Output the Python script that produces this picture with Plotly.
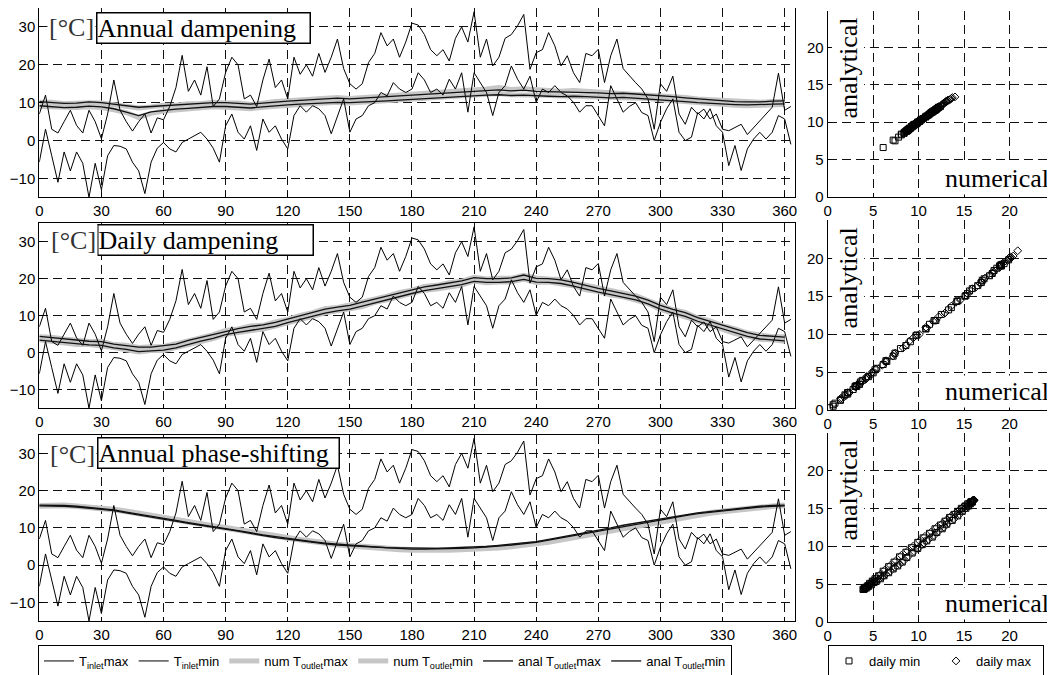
import plotly.graph_objects as go

# ---------------- data ----------------
days_in = list(range(0, 366, 3))   # 0..363
t_inlet_max = [7, 12, 3, 2, 5, 8, 4, 2, 8, 5, 0.5, 7, 16, 8, 5, 2.5, 5, 7, 2, 6,
               5.5, 9, 14, 22.5, 13, 16, 12, 19.5, 9, 11, 18, 22, 20, 11, 12, 9, 16, 21.5, 14, 16,
               11, 22, 17.5, 20, 17, 23, 18, 22, 26.8, 19, 15, 13.6, 15, 20.6, 23, 28.5, 25, 26.8, 22, 26,
               31, 30.5, 28, 24, 22.4, 24, 21, 27, 30, 26, 34, 22, 26.8, 19.7, 22, 27, 28, 30.3, 33.3, 18.8,
               23.2, 24, 28.5, 25, 19.7, 22.4, 17.9, 15.3, 23, 22.4, 24.1, 15.3, 22.4, 26.8, 19, 17, 15.3, 13.6, 11, 3,
               15, 13, 17, 7, 4.3, 8.8, 7, 8.3, 5.7, 7, 3, 2.6, 3.4, 4.3, 1.6, 3.4, 5.2, 7, 8.8, 17.8,
               8, 9]
t_inlet_min = [-5.7, 3, -4, -11, -3, -8, -3, -6, -15, -6, -13, -4, -1.3, -1.5, -2.2, -5.7, -8, -14, -5.7, -2,
               -0.5, -2.2, -3, -0.5, 0.4, 1.3, 2.2, 0.4, -2, -5.7, 3.9, 7, 2.2, 0.4, 3.9, -2.6, 5.7, 2.2, 3.9, 0.4,
               -2.2, 6.6, 9.2, 7.5, 9.2, 8.4, 6.6, 1.8, 6.6, 11, 2.2, 5.7, 6.6, 9.2, 10, 12.7, 11.8, 15.3, 13.6, 12.7,
               13.6, 17.9, 16, 12.7, 13.6, 12, 16.2, 13.6, 17.9, 7.5, 17.9, 15.3, 12.7, 6.6, 12.7, 14.5, 19.7, 16.2, 13.6, 17,
               10.1, 13.6, 12.7, 14.5, 12.7, 11.8, 10.1, 7.5, 9.2, 9.2, 6.6, 3.9, 14.5, 11, 7.5, 9, 10, 7.4, 6.6, 0,
               4.8, 8.4, 11, 2.2, 0, 0.9, 7.4, 5.7, 8.4, 3.9, 2.2, -6.6, -1.3, -7.9, -2.2, 0.4, 2.2, 0.4, 2.2, 6.6,
               5.7, -1]

days_out = list(range(0, 361, 6))  # 0..360

# Annual dampening
num_max_annual = [10.1, 10.1, 9.7, 10.0, 10.0, 9.9, 9.5, 9.0, 8.6, 8.9, 9.3, 9.3, 9.7, 9.7, 10.1, 9.9, 9.9, 9.5, 10.0, 10.3,
                  10.5, 10.7, 11.0, 11.1, 11.4, 11.1, 11.3, 11.6, 11.8, 12.1, 12.3, 12.6, 12.8, 13.0, 13.1, 13.4, 13.6, 14.0, 13.5, 13.7,
                  13.3, 13.2, 13.0, 13.2, 13.0, 12.8, 12.6, 12.7, 12.5, 12.2, 12.0, 11.7, 11.4, 11.0, 10.8, 10.5, 10.2, 10.1, 10.1, 10.3,
                  10.4]
num_min_annual = [9.0, 8.9, 8.5, 8.7, 8.9, 8.7, 8.1, 7.4, 6.1, 7.2, 7.8, 8.1, 8.4, 8.6, 8.9, 8.8, 8.7, 8.4, 8.8, 9.1,
                  9.3, 9.5, 9.8, 9.9, 10.1, 9.9, 10.1, 10.3, 10.5, 10.8, 11.0, 11.2, 11.4, 11.6, 11.8, 12.0, 12.2, 12.4, 12.1, 12.2,
                  12.0, 11.9, 11.8, 11.9, 11.8, 11.6, 11.4, 11.5, 11.3, 11.1, 10.8, 10.5, 10.2, 9.9, 9.7, 9.5, 9.3, 9.2, 9.2, 9.4,
                  9.5]
anal_max_annual = [10.3, 10.0, 9.8, 9.9, 10.2, 10.0, 9.6, 9.2, 8.8, 9.0, 9.2, 9.4, 9.6, 9.8, 10.0, 10.0, 9.8, 9.6, 9.9, 10.2,
                   10.4, 10.6, 10.8, 11.0, 11.2, 11.0, 11.1, 11.4, 11.6, 11.8, 12.0, 12.3, 12.5, 12.7, 12.8, 13.0, 13.2, 13.4, 13.1, 13.3,
                   13.0, 12.9, 12.8, 12.9, 12.8, 12.6, 12.4, 12.5, 12.3, 12.1, 11.9, 11.6, 11.3, 11.0, 10.8, 10.6, 10.3, 10.2, 10.2, 10.4,
                   10.5]
anal_min_annual = [9.2, 9.0, 8.7, 8.8, 9.1, 8.9, 8.4, 7.5, 6.6, 7.6, 8.0, 8.3, 8.5, 8.8, 9.0, 9.0, 8.8, 8.6, 8.9, 9.2,
                   9.4, 9.6, 9.8, 10.0, 10.1, 10.0, 10.1, 10.3, 10.5, 10.7, 10.9, 11.1, 11.3, 11.5, 11.6, 11.8, 12.0, 12.1, 11.9, 12.0,
                   11.8, 11.7, 11.6, 11.7, 11.6, 11.4, 11.3, 11.4, 11.2, 11.0, 10.8, 10.5, 10.3, 10.0, 9.8, 9.7, 9.5, 9.4, 9.4, 9.6,
                   9.7]

# Daily dampening
num_max_daily = [4.3, 4.2, 3.7, 3.4, 3.0, 3.1, 2.2, 2.0, 1.4, 1.6, 1.7, 2.4, 3.2, 4.2, 4.9, 6.0, 6.4, 7.2, 7.4, 8.3,
                 9.0, 10.1, 10.8, 11.9, 12.2, 12.9, 13.6, 14.6, 15.3, 16.3, 16.9, 17.9, 18.2, 18.9, 19.3, 20.4, 19.9, 20.1, 20.1, 20.9,
                 20.2, 19.9, 19.8, 18.9, 18.2, 17.3, 16.8, 15.9, 15.4, 14.1, 12.9, 11.6, 10.9, 9.4, 8.6, 7.3, 6.4, 5.3, 4.8, 4.3,
                 4.3]
num_min_daily = [3.5, 3.0, 2.8, 2.2, 2.2, 1.9, 1.4, 0.8, 0.2, 0.6, 0.6, 1.4, 2.2, 3.2, 3.8, 5.0, 5.4, 6.1, 6.4, 7.2,
                 8.0, 9.1, 9.8, 10.8, 11.2, 11.9, 12.5, 13.6, 14.3, 15.2, 15.9, 16.9, 17.2, 17.8, 18.3, 19.4, 18.9, 19.1, 19.1, 19.9,
                 19.0, 19.1, 18.6, 18.1, 17.0, 16.5, 15.6, 15.1, 14.2, 13.3, 11.7, 10.8, 9.7, 8.6, 7.4, 6.5, 5.2, 4.5, 3.6, 3.5,
                 3.1]
anal_max_daily = [4.4, 4.1, 3.8, 3.3, 3.1, 3.0, 2.3, 1.9, 1.5, 1.5, 1.8, 2.3, 3.3, 4.1, 5.0, 5.9, 6.5, 7.1, 7.5, 8.2,
                  9.1, 10.0, 10.9, 11.8, 12.3, 12.8, 13.7, 14.5, 15.4, 16.2, 17.0, 17.8, 18.3, 18.8, 19.4, 20.3, 20.0, 20.0, 20.2, 21.0,
                  20.1, 20.0, 19.7, 19.0, 18.1, 17.4, 16.7, 16.0, 15.3, 14.2, 12.8, 11.7, 10.8, 9.5, 8.5, 7.4, 6.3, 5.4, 4.7, 4.4,
                  4.2]
anal_min_daily = [3.4, 3.1, 2.7, 2.3, 2.1, 2.0, 1.3, 0.9, 0.3, 0.5, 0.7, 1.3, 2.3, 3.1, 3.9, 4.9, 5.5, 6.0, 6.5, 7.1,
                  8.1, 9.0, 9.9, 10.7, 11.3, 11.8, 12.6, 13.5, 14.4, 15.1, 16.0, 16.8, 17.3, 17.7, 18.4, 19.3, 19.0, 19.0, 19.2, 19.8,
                  19.1, 19.0, 18.7, 18.0, 17.1, 16.4, 15.7, 15.0, 14.3, 13.2, 11.8, 10.7, 9.8, 8.5, 7.5, 6.4, 5.3, 4.4, 3.7, 3.4,
                  3.2]

# Annual phase-shifting
num_max_phase = [16.0, 16.1, 16.1, 15.9, 15.7, 15.4, 15.0, 14.5, 13.9, 13.3, 12.8, 12.2, 11.7, 11.1, 10.6, 10.1, 9.5, 8.9, 8.4, 7.9,
                 7.4, 6.9, 6.4, 6.0, 5.6, 5.3, 5.0, 4.7, 4.5, 4.3, 4.2, 4.1, 4.1, 4.2, 4.3, 4.4, 4.6, 4.8, 5.1, 5.4,
                 5.8, 6.3, 6.9, 7.5, 8.1, 8.8, 9.4, 10.1, 10.7, 11.4, 12.0, 12.6, 13.1, 13.6, 14.1, 14.5, 14.9, 15.3, 15.6, 15.9,
                 16.1]
num_min_phase = [15.8, 15.9, 15.9, 15.7, 15.5, 15.2, 14.8, 14.3, 13.7, 13.1, 12.6, 12.0, 11.5, 10.9, 10.4, 9.9, 9.3, 8.7, 8.2, 7.7,
                 7.2, 6.7, 6.2, 5.8, 5.4, 5.1, 4.8, 4.5, 4.3, 4.1, 4.0, 3.9, 3.9, 4.0, 4.1, 4.2, 4.4, 4.6, 4.9, 5.2,
                 5.6, 6.1, 6.7, 7.3, 7.9, 8.6, 9.2, 9.9, 10.5, 11.2, 11.8, 12.4, 12.9, 13.4, 13.9, 14.3, 14.7, 15.1, 15.4, 15.7,
                 15.9]
anal_max_phase = [16.1, 16.1, 16.0, 15.8, 15.5, 15.2, 14.8, 14.2, 13.6, 13.1, 12.5, 12.0, 11.4, 10.9, 10.4, 9.9, 9.3, 8.7, 8.1, 7.6,
                  7.2, 6.7, 6.3, 5.9, 5.6, 5.4, 5.1, 4.9, 4.7, 4.6, 4.5, 4.5, 4.5, 4.6, 4.7, 4.8, 5.0, 5.3, 5.6, 5.9,
                  6.3, 6.9, 7.5, 8.1, 8.8, 9.4, 10.0, 10.7, 11.3, 11.9, 12.5, 13.0, 13.5, 14.0, 14.4, 14.8, 15.2, 15.5, 15.8, 16.0,
                  16.1]
anal_min_phase = [15.9, 15.9, 15.8, 15.6, 15.3, 15.0, 14.6, 14.0, 13.4, 12.9, 12.3, 11.8, 11.2, 10.7, 10.2, 9.7, 9.1, 8.5, 7.9, 7.4,
                  7.0, 6.5, 6.1, 5.7, 5.4, 5.2, 4.9, 4.7, 4.5, 4.4, 4.3, 4.3, 4.3, 4.4, 4.5, 4.6, 4.8, 5.1, 5.4, 5.7,
                  6.1, 6.7, 7.3, 7.9, 8.6, 9.2, 9.8, 10.5, 11.1, 11.7, 12.3, 12.8, 13.3, 13.8, 14.2, 14.6, 15.0, 15.3, 15.6, 15.8,
                  15.9]

panel_titles = ["Annual dampening", "Daily dampening", "Annual phase-shifting"]
x_ticks_day = [0, 30, 60, 90, 120, 150, 180, 210, 240, 270, 300, 330, 360]
y_ticks_temp = [-10, 0, 10, 20, 30]
scatter_ticks = [0, 5, 10, 15, 20]
scatter_extra_grid = [25]

legend_names = ["T<sub>inlet</sub>max", "T<sub>inlet</sub>min",
                "num T<sub>outlet</sub>max", "num T<sub>outlet</sub>min",
                "anal T<sub>outlet</sub>max", "anal T<sub>outlet</sub>min"]

# ---------------- figure ----------------
PAGE_W, PAGE_H = 1055, 675
OFF = 8                                  # default page margin around the plot div
W, H = PAGE_W - OFF, PAGE_H - OFF        # figure size that fits the window


def fx(p):   # page pixel x -> paper fraction
    return (p - OFF) / W


def fy(p):   # page pixel y -> paper fraction
    return 1 - (p - OFF) / H


SANS = "Liberation Sans"
SERIF = "Liberation Serif"
GRAY = "#c6c6c6"

panels = [
    (num_max_annual, num_min_annual, anal_max_annual, anal_min_annual),
    (num_max_daily, num_min_daily, anal_max_daily, anal_min_daily),
    (num_max_phase, num_min_phase, anal_max_phase, anal_min_phase),
]
left_px = [(197.4, 8.0), (408.2, 223.2), (621.0, 434.7)]
right_px = [(196.7, 10.5), (410.0, 220.4), (622.0, 432.5)]
left_x = (39.3, 795.0)
right_x = (827.7, 1055.0)

fig = go.Figure()

for i, (nmax, nmin, amax, amin) in enumerate(panels):
    xl, yl = (f"x{2*i+1}", f"y{2*i+1}") if i else ("x", "y")
    xr, yr = f"x{2*i+2}", f"y{2*i+2}"
    show = (i == 0)
    fig.add_trace(go.Scatter(x=days_out, y=nmax, mode="lines", name=legend_names[2],
                             line=dict(color=GRAY, width=5), xaxis=xl, yaxis=yl,
                             showlegend=show, legendrank=3, legend="legend"))
    fig.add_trace(go.Scatter(x=days_out, y=nmin, mode="lines", name=legend_names[3],
                             line=dict(color=GRAY, width=5), xaxis=xl, yaxis=yl,
                             showlegend=show, legendrank=4, legend="legend"))
    fig.add_trace(go.Scatter(x=days_in, y=t_inlet_max, mode="lines", name=legend_names[0],
                             line=dict(color="black", width=1), xaxis=xl, yaxis=yl,
                             showlegend=show, legendrank=1, legend="legend"))
    fig.add_trace(go.Scatter(x=days_in, y=t_inlet_min, mode="lines", name=legend_names[1],
                             line=dict(color="black", width=1), xaxis=xl, yaxis=yl,
                             showlegend=show, legendrank=2, legend="legend"))
    fig.add_trace(go.Scatter(x=days_out, y=amax, mode="lines", name=legend_names[4],
                             line=dict(color="#111111", width=1.3), xaxis=xl, yaxis=yl,
                             showlegend=show, legendrank=5, legend="legend"))
    fig.add_trace(go.Scatter(x=days_out, y=amin, mode="lines", name=legend_names[5],
                             line=dict(color="#111111", width=1.3), xaxis=xl, yaxis=yl,
                             showlegend=show, legendrank=6, legend="legend"))
    # scatter: numerical vs analytical
    fig.add_trace(go.Scatter(x=nmin, y=amin, mode="markers", name="daily min",
                             marker=dict(symbol="square-open", size=6, color="black", line=dict(width=1)),
                             xaxis=xr, yaxis=yr, showlegend=show, legend="legend2"))
    fig.add_trace(go.Scatter(x=nmax, y=amax, mode="markers", name="daily max",
                             marker=dict(symbol="diamond-open", size=6, color="black", line=dict(width=1)),
                             xaxis=xr, yaxis=yr, showlegend=show, legend="legend2"))

grid = dict(showgrid=True, gridcolor="#111111", gridwidth=1, griddash="9px,5px",
            automargin=False, zeroline=False, tickcolor="black",
            tickfont=dict(family=SANS, size=15, color="black"))
extra_minor = dict(tickvals=scatter_extra_grid, showgrid=True, gridcolor="#111111",
                   gridwidth=1, griddash="9px,5px", ticks="")
axes = {}
for i in range(3):
    nl, nr = 2 * i + 1, 2 * i + 2
    kxl = "xaxis" if nl == 1 else f"xaxis{nl}"
    kyl = "yaxis" if nl == 1 else f"yaxis{nl}"
    b, t = left_px[i]
    axes[kxl] = dict(domain=[fx(left_x[0]), fx(left_x[1])], range=[0, 365], tickvals=x_ticks_day,
                     anchor=("y" if nl == 1 else f"y{nl}"), showline=True, linecolor="black", linewidth=1,
                     mirror=True, ticks="inside", ticklen=4, **grid)
    axes[kyl] = dict(domain=[fy(b), fy(t)], range=[-15, 35], tickvals=y_ticks_temp,
                     anchor=("x" if nl == 1 else f"x{nl}"), showline=True, linecolor="black", linewidth=1,
                     mirror=True, ticks="inside", ticklen=4, **grid)
    b, t = right_px[i]
    axes[f"xaxis{nr}"] = dict(domain=[fx(right_x[0]), 1.0], range=[0, 25], tickvals=scatter_ticks,
                              anchor=f"y{nr}", showline=True, linecolor="black",
                              linewidth=1, mirror=False, ticks="inside", ticklen=3,
                              minor=extra_minor, **grid)
    axes[f"yaxis{nr}"] = dict(domain=[fy(b), fy(t)], range=[0, 25], tickvals=scatter_ticks,
                              anchor=f"x{nr}", showline=True, linecolor="black",
                              linewidth=1, mirror=False, ticks="inside", ticklen=3,
                              minor=extra_minor, **grid)

annotations = []
title_boxes = [(96, 27.5, 212), (97, 240, 214), (97, 453, 240)]
degc_pos = [(47, 27.5), (49, 240.5), (48, 454)]
for i in range(3):
    x0, yc, wbox = title_boxes[i]
    annotations.append(dict(xref="paper", yref="paper", x=fx(x0), y=fy(yc), xanchor="left",
                            yanchor="middle", text=panel_titles[i], showarrow=False, align="left",
                            width=wbox, bgcolor="white", bordercolor="black", borderwidth=1.5, borderpad=0,
                            font=dict(family=SERIF, size=26, color="black")))
    dx, dy = degc_pos[i]
    annotations.append(dict(xref="paper", yref="paper", x=fx(dx), y=fy(dy), xanchor="left",
                            yanchor="middle", text="[°C]", showarrow=False, bgcolor="white",
                            font=dict(family=SERIF, size=26, color="#333333")))
    b, t = right_px[i]
    annotations.append(dict(xref="paper", yref="paper", x=fx(848), y=fy(t + 58), xanchor="center",
                            yanchor="middle", text="analytical", textangle=-90, showarrow=False,
                            bgcolor="white", font=dict(family=SERIF, size=26, color="black")))
    annotations.append(dict(xref="paper", yref="paper", x=fx(1051), y=fy(b - 2), xanchor="right",
                            yanchor="bottom", text="numerical", showarrow=False, bgcolor="white",
                            font=dict(family=SERIF, size=26, color="black")))

fig.update_layout(
    width=W, height=H, margin=dict(l=0, r=0, t=0, b=0, autoexpand=False),
    paper_bgcolor="white", plot_bgcolor="white",
    annotations=annotations,
    legend=dict(orientation="h", x=fx(38), y=fy(645), xanchor="left", yanchor="top",
                bgcolor="white", bordercolor="black", borderwidth=1, itemwidth=30,
                font=dict(family=SANS, size=13, color="black"), traceorder="normal"),
    legend2=dict(orientation="h", x=fx(828), y=fy(645), xanchor="left", yanchor="top",
                 bgcolor="white", bordercolor="black", borderwidth=1, itemwidth=30,
                 entrywidth=62, entrywidthmode="pixels",
                 font=dict(family=SANS, size=13, color="black")),
    **axes,
)

fig.write_html("out.html")
